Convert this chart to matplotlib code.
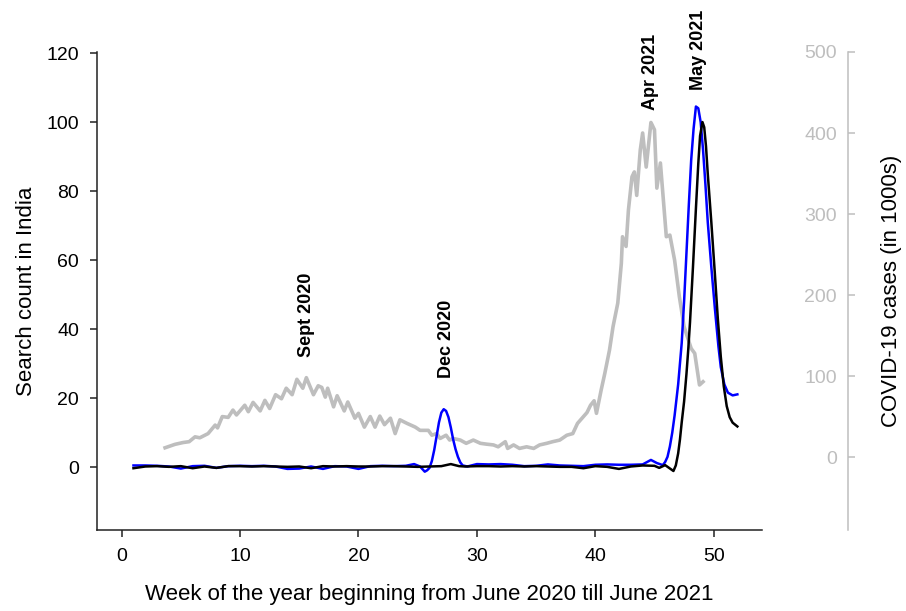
import matplotlib
matplotlib.use("Agg")
import matplotlib.pyplot as plt

plt.rcParams['font.family'] = ['Liberation Sans', 'DejaVu Sans']

# search counts (left axis) - week of the year vs. count
blue_weeks = [1, 2, 3, 4, 5, 6, 7, 8, 9, 10, 11, 12, 13, 14, 15, 16, 17, 18, 19, 20,
              21, 22, 23, 24, 24.7, 25.2, 25.6, 25.8, 26.0, 26.2, 26.4, 26.6, 26.8,
              27.0, 27.2, 27.4, 27.6, 27.8, 28.0, 28.2, 28.4, 28.6, 28.8, 29.2, 30,
              31, 32, 33, 34, 35, 36, 37, 38, 39, 40, 41, 42, 43, 44, 44.7, 45.2,
              45.7, 45.9, 46.1, 46.3, 46.5, 46.7, 47.0, 47.3, 47.5, 47.7, 47.9, 48.1,
              48.3, 48.5, 48.7, 48.9, 49.1, 49.3, 49.5, 49.8, 50.1, 50.4, 50.6, 50.9,
              51.2, 51.6, 52.0]
blue_counts = [0.5, 0.5, 0.4, 0.2, -0.4, 0.3, 0.4, -0.2, 0.3, 0.4, 0.3, 0.4, 0.2, -0.5,
               -0.4, 0.2, -0.5, 0.3, 0.2, -0.5, 0.3, 0.4, 0.3, 0.4, 0.9, 0.2, -1.3,
               -0.9, -0.2, 1.8, 5, 9, 13, 15.8, 16.8, 16.3, 14.5, 11.5, 8, 5.2, 3, 1.4,
               0.5, 0.2, 0.9, 0.8, 0.9, 0.7, 0.3, 0.4, 0.8, 0.5, 0.4, 0.3, 0.7, 0.8,
               0.7, 0.7, 0.8, 2.1, 1.2, 0.6, 1.5, 3, 6, 10, 15, 24, 36, 48, 62, 76, 89,
               98, 104.5, 104, 100, 92, 82, 71, 58, 46, 35, 29, 24, 21.6, 20.8, 21.1]

black_weeks = [1, 2, 3, 4, 5, 6, 7, 8, 9, 10, 11, 12, 13, 14, 15, 16, 17, 18, 19, 20,
               21, 22, 23, 24, 25, 26, 27, 27.8, 28.5, 29, 30, 31, 32, 33, 34, 35, 36,
               37, 38, 39, 40, 41, 42, 43, 44, 45, 45.4, 45.9, 46.6, 46.8, 47.0, 47.15,
               47.3, 47.5, 47.7, 47.85, 48.0, 48.25, 48.5, 48.7, 48.85, 49.05, 49.2,
               49.35, 49.5, 49.8, 50.1, 50.35, 50.6, 50.85, 51.1, 51.35, 51.6, 52.0]
black_counts = [-0.3, 0.2, 0.3, 0.1, 0.3, -0.3, 0.2, -0.2, 0.3, 0.3, 0.2, 0.3, 0.2, 0.1,
                0.2, -0.3, 0.3, 0.2, 0.3, 0.2, 0.2, 0.3, 0.3, 0.2, 0.1, 0.2, 0.3, 0.9,
                0.3, 0.2, 0.3, 0.3, 0.2, 0.3, 0.2, 0.3, 0.2, 0.1, 0.1, -0.3, 0.3, 0.1,
                -0.5, 0.2, 0.5, 0.4, -0.2, 0.6, -1.1, 0.5, 4, 8, 13, 19, 27, 34, 42, 58,
                75, 88, 96, 100, 98.5, 93, 85, 71, 56, 43, 32, 23.5, 17.7, 14.5, 12.9,
                11.8]

# covid-19 cases in 1000s (right axis)
case_weeks = [3.67, 4.5, 5.2, 5.7, 6.2, 6.6, 7.3, 7.9, 8.1, 8.5, 9.0, 9.4, 9.7, 10.4,
              10.7, 11.1, 11.7, 12.1, 12.5, 13.0, 13.5, 13.9, 14.4, 14.8, 15.3, 15.6,
              16.2, 16.6, 16.9, 17.2, 17.4, 17.9, 18.2, 18.8, 19.1, 19.7, 20.0, 20.5,
              21.0, 21.4, 21.8, 22.2, 22.7, 23.1, 23.5, 24.1, 24.8, 25.2, 25.9, 26.2,
              26.6, 26.9, 27.4, 27.7, 28.0, 28.6, 29.1, 29.7, 30.3, 30.8, 31.4, 31.8,
              32.4, 32.6, 33.1, 33.6, 34.2, 34.8, 35.3, 35.9, 36.4, 37.0, 37.6, 38.1,
              38.5, 39.3, 39.6, 39.9, 40.1, 40.5, 40.8, 41.2, 41.5, 41.9, 42.2, 42.3,
              42.6, 42.8, 43.1, 43.3, 43.5, 43.8, 44.0, 44.3, 44.7, 45.0, 45.2, 45.5,
              46.0, 46.3, 46.7, 47.1, 47.5, 48.1, 48.4, 48.8, 49.1]
case_values = [11.5, 15.7, 18, 19, 25, 23.8, 29, 39.5, 36, 50, 49, 58, 52, 64, 56, 67.5,
               57, 70, 60, 77, 72, 85, 77, 96, 85, 98, 77, 88, 86, 74, 85, 62, 75.7, 57,
               68, 48, 54, 37, 50, 37, 50.6, 40, 48, 29, 46, 41.6, 37, 33, 33, 27, 29,
               23, 27, 21, 23, 21, 17, 21, 17, 16, 15, 12.7, 19, 10.7, 15, 10.7, 12.7,
               10.7, 15, 17, 19, 21, 27, 29, 41.6, 55, 64, 69.5, 54, 83, 103, 132, 161,
               190, 239, 272, 260, 305, 346, 352, 323, 379, 400, 358, 413, 404, 332,
               363, 272, 274, 243, 198, 161, 134, 128, 89, 93]

# annotation labels: (text, week, search count at the text's bottom)
peak_labels = ["Sept 2020", "Dec 2020", "Apr 2021", "May 2021"]
peak_weeks = [15.65, 27.4, 44.65, 48.75]
peak_heights = [32.0, 25.8, 103.5, 109.2]

x_ticks = [0, 10, 20, 30, 40, 50]
left_ticks = [0, 20, 40, 60, 80, 100, 120]
right_ticks = [0, 100, 200, 300, 400, 500]

grey = "#BEBEBE"

fig = plt.figure(figsize=(9.06, 6.11), dpi=100)
ax = fig.add_axes([97 / 906, 81 / 611, 665 / 906, 478 / 611])
ax2 = ax.twinx()

# cases line sits behind the search lines
ax.set_zorder(ax2.get_zorder() + 1)
ax.patch.set_visible(False)

ax2.plot(case_weeks, case_values, color=grey, linewidth=2.6, solid_joinstyle='round')
ax.plot(blue_weeks, blue_counts, color="#0000FF", linewidth=1.8)
ax.plot(black_weeks, black_counts, color="black", linewidth=1.8)

for label, wk, h in zip(peak_labels, peak_weeks, peak_heights):
    ax.text(wk, h, label, rotation=90, ha='center', va='bottom',
            fontsize=13, fontweight='bold')

ax.set_xlim(-2.08, 54.08)
ax.set_ylim(-18.2, 120.3)
ax2.set_ylim(-90, 500)

ax.set_xticks(x_ticks)
ax.set_yticks(left_ticks)
ax2.set_yticks(right_ticks)

ax.spines['top'].set_visible(False)
ax.spines['right'].set_visible(False)
for s in ['left', 'bottom']:
    ax.spines[s].set_linewidth(1.1)
    ax.spines[s].set_color('#222222')
ax.tick_params(axis='both', direction='out', length=5, width=1.1,
               color='#222222', labelsize=14, pad=8)

for s in ['top', 'left', 'bottom']:
    ax2.spines[s].set_visible(False)
ax2.spines['right'].set_position(('outward', 62))
ax2.spines['right'].set_color(grey)
ax2.spines['right'].set_linewidth(1.1)
ax2.tick_params(axis='y', direction='out', length=5, width=1.1, color=grey,
                labelcolor=grey, labelsize=14, pad=-13)
plt.setp(ax2.get_yticklabels(), ha='right')

ax.set_xlabel("Week of the year beginning from June 2020 till June 2021", fontsize=16)
ax.set_ylabel("Search count in India", fontsize=16)
ax2.set_ylabel("COVID-19 cases (in 1000s)", fontsize=16)
ax.xaxis.set_label_coords(0.5, -0.113)
ax.yaxis.set_label_coords(-0.090, 0.5)
ax2.yaxis.set_label_coords(1.179, 0.5)

fig.savefig("out.png", dpi=100)
